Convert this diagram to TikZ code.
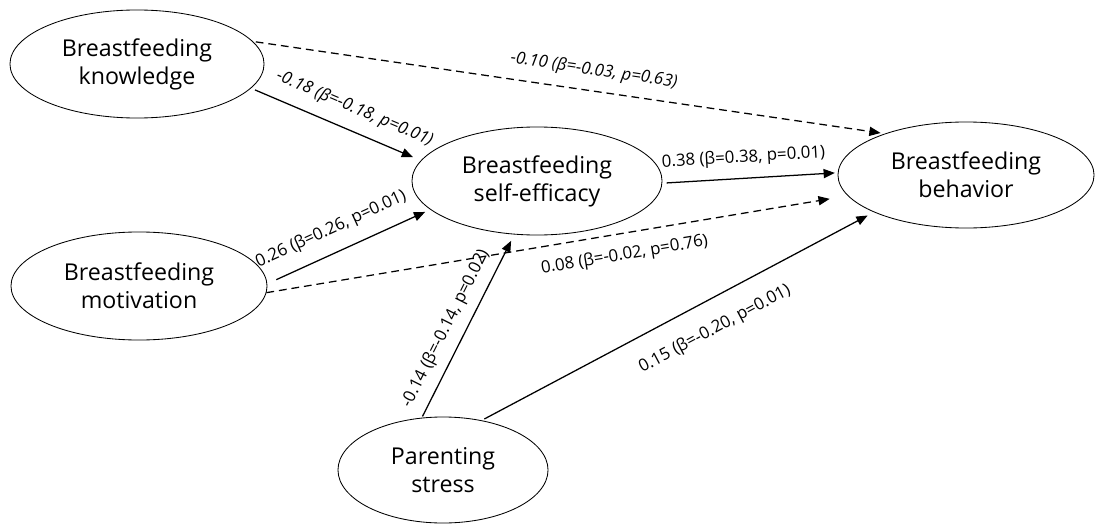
\documentclass[tikz,border=0pt]{standalone}
\usepackage{fontspec}
\setmainfont{Open Sans}
\usetikzlibrary{shapes.geometric,arrows.meta}

\begin{document}
\begin{tikzpicture}[x=0.025cm,y=-0.025cm,
		latent/.style={ellipse,draw,line width=0.6pt,inner sep=0pt,align=center,font=\fontsize{16.5}{20}\selectfont},
		effect/.style={line width=0.9pt,-{Triangle[length=8pt,width=6.5pt]}},
		nseffect/.style={effect,dash pattern=on 5.5pt off 3.5pt},
		coef/.style={sloped,inner sep=1pt,font=\fontsize{12}{14}\selectfont}]
		% Frame
		\useasboundingbox (0,0) rectangle (1095,525);
		
		% Draw variables
		\node[latent,minimum width=6.35cm,minimum height=2.7cm] (know) at (137,64) {Breastfeeding\\knowledge};
		\node[latent,minimum width=6.4cm,minimum height=2.7cm] (motiv) at (139,286) {Breastfeeding\\motivation};
		\node[latent,minimum width=6.25cm,minimum height=2.7cm] (selfeff) at (537,181) {Breastfeeding\\self-efficacy};
		\node[latent,minimum width=6.4cm,minimum height=2.65cm] (behav) at (966,175) {Breastfeeding\\behavior};
		\node[latent,minimum width=5.25cm,minimum height=2.65cm] (stress) at (443,470) {Parenting\\stress};
		
		% Draw paths
		\draw[effect,shorten <=3pt,shorten >=6pt] (know.-12) -- (selfeff.170)
			node[coef,pos=0.56,above=8pt,font=\fontsize{12}{14}\selectfont\itshape] {-0.18 (β=-0.18, p=0.01)};
		\draw[nseffect,shorten <=2pt,shorten >=3pt] (know.11) -- (behav.153)
			node[coef,pos=0.535,above=7pt,font=\fontsize{12}{14}\selectfont\itshape] {-0.10 (β=-0.03, p=0.63)};
		\draw[effect,shorten <=3pt,shorten >=2pt] (selfeff.-1) -- (behav.179)
			node[coef,pos=0.47,above=7pt] {0.38 (β=0.38, p=0.01)};
		\draw[effect,shorten <=7pt,shorten >=4pt] (motiv.1) -- (selfeff.-165)
			node[coef,pos=0.45,above=9pt] {0.26 (β=0.26, p=0.01)};
		\draw[nseffect,shorten <=0pt,shorten >=13pt] (motiv.-3) -- (behav.190)
			node[coef,pos=0.61,below=8pt] {0.08 (β=-0.02, p=0.76)};
		\draw[effect,shorten <=1pt,shorten >=5pt] (stress.112) -- (selfeff.-113)
			node[coef,pos=0.44,above=6pt] {-0.14 (β=-0.14, p=0.02)};
		\draw[effect,shorten <=2pt,shorten >=5pt] (stress.52) -- (behav.202)
			node[coef,pos=0.56,below=13pt] {0.15 (β=-0.20, p=0.01)};
		
	\end{tikzpicture}
\end{document}
